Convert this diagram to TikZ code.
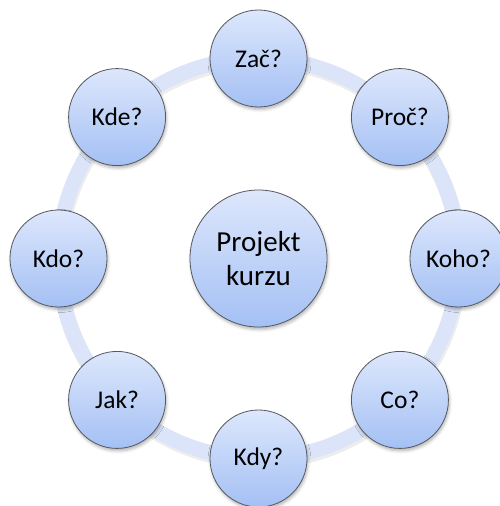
\documentclass[tikz,border=0pt]{standalone}
\usepackage{fontspec}
\setmainfont{Carlito}
\usetikzlibrary{calc,shadows.blur}

\definecolor{ringfill}{RGB}{219,228,248}
\definecolor{balltop}{RGB}{221,231,252}
\definecolor{ballbot}{RGB}{164,192,244}
\definecolor{ballline}{RGB}{85,88,95}

\tikzset{
  ball/.style={circle, inner sep=0pt, minimum size=97pt,
    top color=balltop, bottom color=ballbot,
    draw=ballline, line width=0.8pt,
    blur shadow={shadow xshift=1pt, shadow yshift=-2.5pt,
      shadow blur radius=3pt, shadow opacity=30},
    font=\fontsize{25.5}{30}\selectfont, text=black},
  hub/.style={ball, minimum size=137pt,
    font=\fontsize{29}{34}\selectfont, align=center},
  ringband/.style={draw=ringfill, line width=15pt},
  ringshade/.style={draw=black, draw opacity=0.07, line width=16pt}
}

\begin{document}
\begin{tikzpicture}[x=1pt,y=1pt]
  \useasboundingbox (0,0) rectangle (500,506);
  \coordinate (c) at (258.5,247.5);

  % ring behind the outer circles
  \draw[ringshade] ($(c)+(1,-2.5)$) circle (200);
  \draw[ringband] (c) circle (200);

  % centre
  \node[hub] (hub) at (c) {Projekt\\kurzu};

  % outer questions
  \node[ball] (zac)  at ($(c)+(90:200)$)   {Zač?};
  \node[ball] (proc) at ($(c)+(45:200)$)   {Proč?};
  \node[ball] (koho) at ($(c)+(0:200)$)    {Koho?};
  \node[ball] (co)   at ($(c)+(-45:200)$)  {Co?};
  \node[ball] (kdy)  at ($(c)+(-90:200)$)  {Kdy?};
  \node[ball] (jak)  at ($(c)+(-135:200)$) {Jak?};
  \node[ball] (kdo)  at ($(c)+(180:200)$)  {Kdo?};
  \node[ball] (kde)  at ($(c)+(135:200)$)  {Kde?};
\end{tikzpicture}
\end{document}
